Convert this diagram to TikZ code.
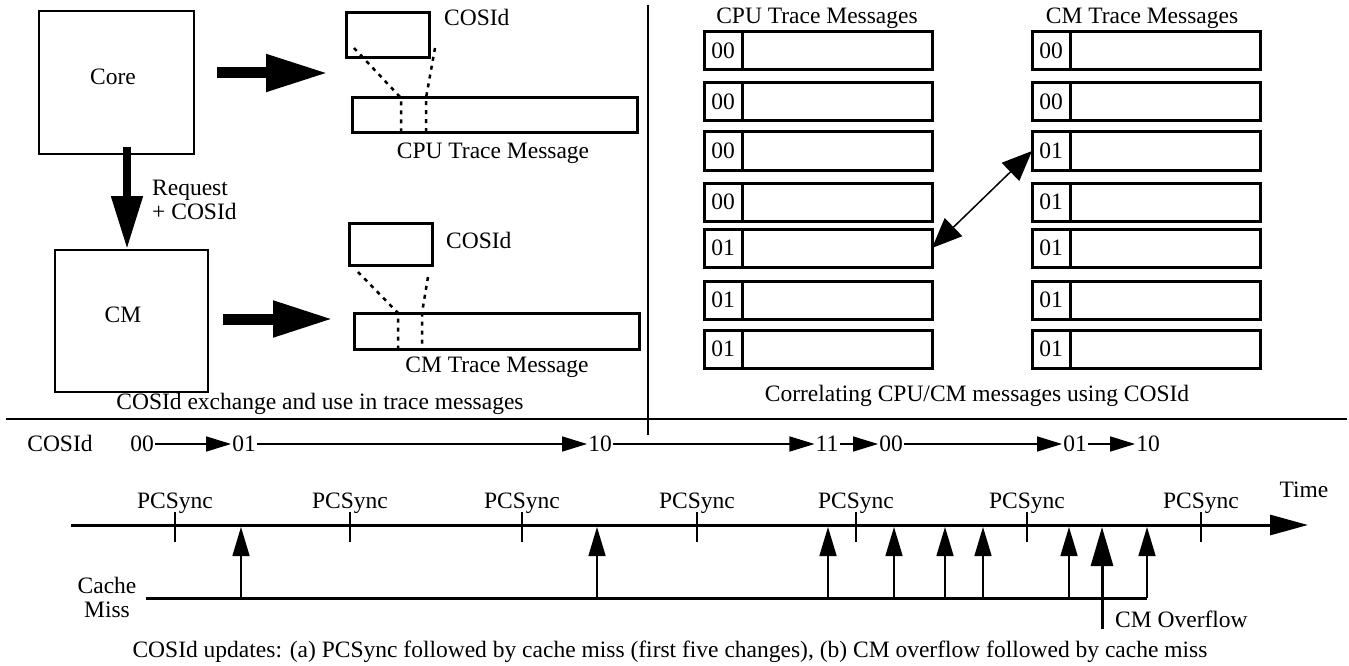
\documentclass[tikz,border=0pt]{standalone}
\usepackage{fontspec}
\setmainfont{Liberation Serif}
\usepackage{tikz}
\usetikzlibrary{arrows.meta,positioning,calc}

\begin{document}
\begin{tikzpicture}[x=1pt,y=-1pt,
    every node/.style={font=\fontsize{23.5}{24}\selectfont,inner sep=1pt},
    thinbox/.style={draw,line width=2pt,inner sep=0pt,outer sep=0pt},
    thickbox/.style={draw,line width=3pt,inner sep=0pt,outer sep=0pt},
    idcell/.style={thickbox,minimum width=38pt,minimum height=38pt},
    bodycell/.style={thickbox,minimum width=190pt,minimum height=38pt},
    bigarrow/.style={line width=11pt,-{Triangle[length=62pt,width=35pt]}},
    dotline/.style={line width=2.5pt,dash pattern=on 4pt off 5pt},
    idarrow/.style={line width=1.5pt,-{Triangle[length=25pt,width=15pt]}},
    missarrow/.style={line width=1.5pt,-{Triangle[length=29pt,width=17pt]}}]
        \useasboundingbox (0,0) rectangle (1349,666);
        % ---- COSId exchange (left) ----
        \node[thinbox,minimum width=155pt,minimum height=143pt]
            (core) at (116.5,82.5) {};
        \node (corelbl) at (113,77) {Core};
        \node[thinbox,minimum width=153pt,minimum height=142pt]
            (cm) at (131.5,321) {};
        \node (cmlbl) at (123,315) {CM};
        \node[thickbox,minimum width=83pt,minimum height=45pt]
            (cpuid) at (387.5,35.5) {};
        \node[thickbox,minimum width=285pt,minimum height=35pt]
            (cpumsg) at (494.5,115.5) {};
        \node[thickbox,minimum width=83pt,minimum height=42pt]
            (cmid) at (390.5,244) {};
        \node[thickbox,minimum width=285pt,minimum height=36pt]
            (cmmsg) at (496.5,331) {};
        \node[anchor=west,inner sep=0pt] (cpuidlbl) at (444,17) {COSId};
        \node[anchor=west,inner sep=0pt] (cmidlbl) at (446,240) {COSId};
        \node (cpumsglbl) at (493,153) {CPU Trace Message};
        \node (cmmsglbl) at (497,367) {CM Trace Message};
        \node[align=left,anchor=west,inner sep=0pt] (reqlbl) at (152,200)
            {Request\\+ COSId};
        \node (leftcap) at (320,404) {COSId exchange and use in trace messages};
        % ---- dotted field marks ----
        \draw[dotline] (354,48) -- (401,98) -- (401,133);
        \draw[dotline] (435,48) -- (426,98) -- (426,133);
        \draw[dotline] (358,272) -- (398,313) -- (398,349);
        \draw[dotline] (428,277) -- (422,313) -- (422,349);
        % ---- big arrows ----
        \coordinate (coreout) at (217,73);
        \coordinate (cpuin) at (328,73);
        \coordinate (cmout) at (223,319);
        \coordinate (cmin) at (333,319);
        \draw[bigarrow] (coreout) -- (cpuin);
        \draw[line width=11pt,-{Triangle[length=60pt,width=34pt]}] (cmout) -- (cmin);
        \draw[line width=8pt,-{Triangle[length=53pt,width=30pt]}]
            ([xshift=10.5pt,yshift=7pt]core.south) -- ([xshift=-4.5pt,yshift=1pt]cm.north);
        % ---- separators ----
        \draw[line width=1.5pt] (648,5) -- (648,435);
        \draw[line width=2.5pt] (6,419) -- (1347,419);
        % ---- trace message columns (right) ----
        \node (cputitle) at (817,18) {CPU Trace Messages};
        \node (cmtitle) at (1142,18) {CM Trace Messages};
        \foreach \r/\yc/\a/\b in {1/51/00/00, 2/102/00/00, 3/151/00/01,
                                  4/202/00/01, 5/248/01/01, 6/300/01/01, 7/349/01/01} {
          \node[idcell] (cpui\r) at (723,\yc) {\a};
          \node[bodycell,right=0pt of cpui\r] (cpub\r) {};
          \node[idcell] (cmi\r) at (1051,\yc) {\b};
          \node[bodycell,right=0pt of cmi\r] (cmb\r) {};
        }
        \draw[line width=1.5pt,{Triangle[length=30pt,width=25pt]}-{Triangle[length=30pt,width=25pt]}]
            (cpub5.east) -- (cmi3.west);
        \node (rightcap) at (977,396) {Correlating CPU/CM messages using COSId};
        % ---- COSId sequence ----
        \node (cosidlbl) at (60,443) {COSId};
        \foreach \n/\x/\t in {i1/142/00, i2/244/01, i3/600/10, i4/827/11,
                              i5/891/00, i6/1075/01, i7/1148/10}
          \node (\n) at (\x,444) {\t};
        \foreach \a/\b in {i1/i2, i2/i3, i3/i4, i4/i5, i5/i6, i6/i7}
          \draw[idarrow] (\a) -- (\b);
        % ---- time axis + PCSync ----
        \coordinate (tstart) at (71,525);
        \coordinate (tend) at (1308,525);
        \draw[line width=3pt,-{Triangle[length=38pt,width=20pt]}] (tstart) -- (tend);
        \node (timelbl) at (1304,490) {Time};
        \foreach \i/\x in {1/175, 2/350, 3/522, 4/697, 5/856, 6/1027, 7/1201} {
          \coordinate (s\i) at (\x,512);
          \draw[line width=2.5pt] (s\i) -- ++(0,30);
          \node[anchor=base] (sl\i) at (\x,508) {PCSync};
        }
        % ---- cache misses ----
        \coordinate (cmstart) at (146,598);
        \coordinate (cmend) at (1147,598);
        \draw[line width=3pt] (cmstart) -- (cmend);
        \node[align=center] (misslbl) at (107,597) {Cache\\Miss};
        \foreach \i/\x in {1/241, 2/597, 3/828, 4/894, 5/945, 6/983, 7/1069, 8/1147} {
          \coordinate (m\i) at (\x,598);
          \coordinate (h\i) at (\x,527);
          \draw[missarrow] (m\i) -- (h\i);
        }
        \coordinate (ovfrom) at (1102,629);
        \coordinate (ovto) at (1102,527);
        \draw[line width=3pt,-{Triangle[length=39pt,width=22pt]}] (ovfrom) -- (ovto);
        \node[anchor=west,inner sep=0pt] (ovlbl) at (1115,619) {CM Overflow};
        \node (updcap) at (670,652) {COSId updates: (a) PCSync followed by cache miss
            (first five changes), (b) CM overflow followed by cache miss};
      \end{tikzpicture}
\end{document}
